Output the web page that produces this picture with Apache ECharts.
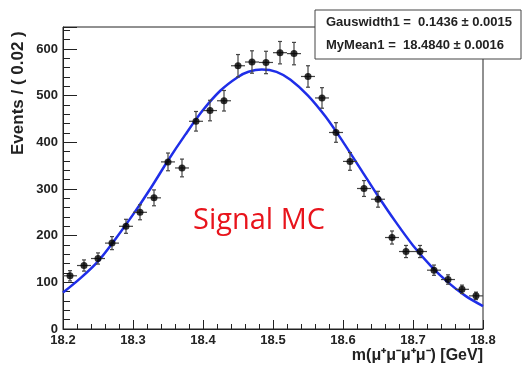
<!DOCTYPE html>
<html lang="en">
<head>
    <meta charset="UTF-8">
    <title>Signal MC</title>
    <style>
        html, body { margin: 0; padding: 0; background: #fff; }
        #main { width: 527px; height: 365px; }
    </style>
</head>
<body>
<div id="main"></div>
<script src="https://cdn.jsdelivr.net/npm/echarts@6/dist/echarts.min.js"></script>
<script>
    // bin centres (width 0.02) and counts
    const binX = [18.21, 18.23, 18.25, 18.27, 18.29, 18.31, 18.33, 18.35, 18.37, 18.39,
        18.41, 18.43, 18.45, 18.47, 18.49, 18.51, 18.53, 18.55, 18.57, 18.59,
        18.61, 18.63, 18.65, 18.67, 18.69, 18.71, 18.73, 18.75, 18.77, 18.79];
    const counts = [114, 136, 151, 184, 220, 250, 281, 358, 345, 445,
        468, 489, 564, 572, 571, 592, 590, 541, 495, 421,
        359, 301, 278, 196, 166, 166, 126, 106, 85, 71];
    const errors = [11, 12, 12, 14, 15, 16, 17, 19, 19, 21,
        22, 22, 24, 24, 24, 24, 24, 23, 22, 21,
        19, 17, 17, 14, 13, 13, 11, 10, 9, 8];

    // fitted curve
    const fitX = [18.2, 18.225, 18.25, 18.275, 18.3, 18.325, 18.35, 18.375, 18.4, 18.425,
        18.45, 18.465, 18.484, 18.505, 18.525, 18.55, 18.575, 18.6, 18.625, 18.65, 18.675,
        18.7, 18.725, 18.75, 18.775, 18.8];
    const fitY = [78, 109, 145, 193, 245, 301, 361, 417, 469, 511,
        540, 551, 556, 551, 534, 500, 455, 401, 343, 285, 230,
        179, 136, 100, 71, 49];

    const halfBin = 0.01;
    const bold = 'bold 13px "Liberation Sans", Arial, sans-serif';

    const points = binX.map((x, i) => [x, counts[i], errors[i]]);
    const fitLine = fitX.map((x, i) => [x, fitY[i]]);

    const chart = echarts.init(document.getElementById('main'));
    chart.setOption({
        animation: false,
        grid: {
            left: 63, right: 44, top: 27, bottom: 36,
            show: true, borderColor: '#222', borderWidth: 1
        },
        xAxis: {
            type: 'value', min: 18.2, max: 18.8, interval: 0.1,
            axisLine: {lineStyle: {color: '#222'}},
            axisTick: {inside: true, length: 9, lineStyle: {color: '#222'}},
            minorTick: {show: true, splitNumber: 5, length: 5, lineStyle: {color: '#222'}},
            splitLine: {show: false},
            axisLabel: {
                color: '#222', fontFamily: 'Liberation Sans', fontWeight: 'bold', fontSize: 13,
                margin: 5, formatter: v => v.toFixed(1)
            }
        },
        yAxis: {
            type: 'value', min: 0, max: 647, interval: 100,
            axisLine: {show: true, lineStyle: {color: '#222'}},
            axisTick: {show: true, inside: true, length: 14, lineStyle: {color: '#222'}},
            minorTick: {show: true, splitNumber: 5, length: 7, lineStyle: {color: '#222'}},
            splitLine: {show: false},
            axisLabel: {
                color: '#222', fontFamily: 'Liberation Sans', fontWeight: 'bold', fontSize: 13,
                margin: 5, showMaxLabel: false,
                formatter: v => (v % 100 === 0 ? String(v) : '')
            }
        },
        series: [
            {
                type: 'custom',
                data: points,
                z: 3,
                renderItem(params, api) {
                    const x = api.value(0), y = api.value(1), e = api.value(2);
                    const top = api.coord([x, y + e]);
                    const bot = api.coord([x, y - e]);
                    const l = api.coord([x - halfBin, y]);
                    const r = api.coord([x + halfBin, y]);
                    const st = {stroke: '#444', lineWidth: 1.2};
                    return {
                        type: 'group',
                        children: [
                            {type: 'line', shape: {x1: top[0], y1: top[1], x2: bot[0], y2: bot[1]}, style: st},
                            {type: 'line', shape: {x1: l[0], y1: l[1], x2: r[0], y2: r[1]}, style: st},
                            {type: 'line', shape: {x1: top[0] - 2, y1: top[1], x2: top[0] + 2, y2: top[1]}, style: st},
                            {type: 'line', shape: {x1: bot[0] - 2, y1: bot[1], x2: bot[0] + 2, y2: bot[1]}, style: st}
                        ]
                    };
                }
            },
            {
                type: 'line',
                data: fitLine,
                smooth: 0.3,
                showSymbol: false,
                z: 2,
                lineStyle: {color: '#1f2ee8', width: 2.5}
            },
            {
                type: 'scatter',
                data: points.map(p => [p[0], p[1]]),
                symbolSize: 7,
                z: 4,
                itemStyle: {color: '#000'}
            }
        ],
        graphic: [
            {
                type: 'text', rotation: Math.PI / 2,
                style: {
                    text: 'Events / ( 0.02 )', font: 'bold 17px "Liberation Sans", Arial, sans-serif',
                    fill: '#222'
                },
                x: 10, y: 155
            },
            {
                type: 'text', right: 44, top: 348,
                style: {
                    text: 'm(μ⁺μ⁻μ⁺μ⁻) [GeV]', font: 'bold 16px "Liberation Sans", Arial, sans-serif',
                    fill: '#222'
                }
            },
            {
                type: 'text', left: 193, top: 206,
                style: {
                    text: 'Signal MC', font: '29px "Open Sans", sans-serif', fill: '#e8141c'
                }
            },
            {
                type: 'rect', z: 10,
                shape: {x: 315, y: 10, width: 206, height: 49},
                style: {fill: '#fff', stroke: '#444', lineWidth: 1}
            },
            {
                type: 'text', z: 11, left: 326, top: 16,
                style: {text: 'Gauswidth1 =  0.1436 ± 0.0015', font: bold, fill: '#222'}
            },
            {
                type: 'text', z: 11, left: 326, top: 39,
                style: {text: 'MyMean1 =  18.4840 ± 0.0016', font: bold, fill: '#222'}
            }
        ]
    });
</script>
</body>
</html>
